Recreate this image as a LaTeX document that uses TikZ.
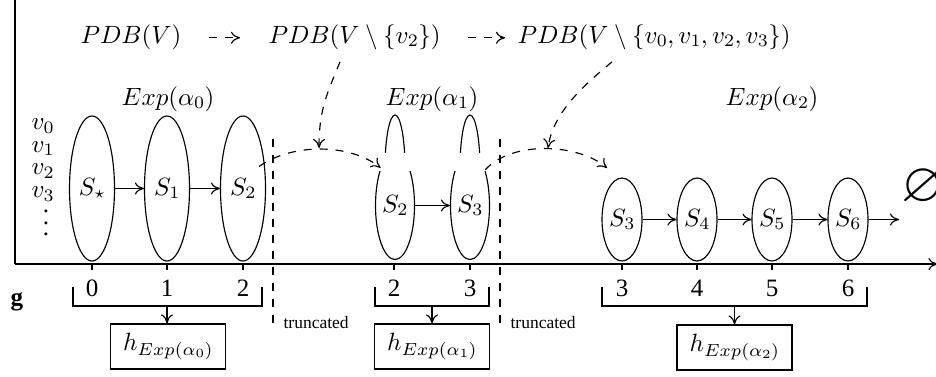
\documentclass[tikz,border=0pt]{standalone}
\usepackage{amssymb}
% Computer Modern math with the 10/7/5 design sizes, scaled to 25/17.5/12.5
\DeclareFontFamily{OML}{cmm}{\skewchar\font=127 }
\DeclareFontShape{OML}{cmm}{m}{it}{<17.5> cmmi7 <12.5> cmmi5 <-> cmmi10}{}
\DeclareFontFamily{OMS}{cmsy}{\skewchar\font=48 }
\DeclareFontShape{OMS}{cmsy}{m}{n}{<17.5> cmsy7 <12.5> cmsy5 <-> cmsy10}{}
\DeclareFontFamily{OMX}{cmex}{}
\DeclareFontShape{OMX}{cmex}{m}{n}{<-> cmex10}{}
\DeclareFontFamily{OT1}{cmr}{\hyphenchar\font=45 }
\DeclareFontShape{OT1}{cmr}{m}{n}{<17.5> cmr7 <12.5> cmr5 <-> cmr10}{}
\DeclareFontFamily{U}{msb}{}
\DeclareFontShape{U}{msb}{m}{n}{<-> msbm10}{}
\DeclareMathSizes{25}{25}{17.5}{12.5}
\usepackage[no-math]{fontspec}
\setmainfont{Liberation Serif}
\usetikzlibrary{arrows.meta,shapes.geometric}

\tikzset{
  mfont/.style={font=\fontsize{25}{30}\selectfont},
  stnode/.style={ellipse, draw, inner sep=0pt, mfont},
  tallst/.style={stnode, minimum width=45pt, minimum height=145pt},
  midst/.style={stnode, minimum width=39pt, minimum height=108pt},
  shortst/.style={stnode, minimum width=40pt, minimum height=83pt},
  mlabel/.style={mfont, inner sep=0pt},
  digit/.style={font=\fontsize{25}{30}\selectfont, inner sep=0pt},
  trunc/.style={font=\fontsize{17.5}{20}\selectfont, inner sep=0pt},
  hbox/.style={draw, mfont, inner sep=0pt, minimum width=115pt, minimum height=45pt},
  dline/.style={dash pattern=on 8pt off 8pt},
}

\begin{document}
\begin{tikzpicture}[x=1pt, y=-1pt, line width=1.15pt, >={To[length=9pt,width=12pt]}]
\useasboundingbox (0,0) rectangle (936,376);

% axes
\coordinate (origin) at (15,264);
\coordinate (xend) at (937.5,264);
\coordinate (ytop) at (15,-3);
\draw (origin) -- (ytop);
\draw[->] (origin) -- (xend);

% ticks and tick labels
\foreach \x/\t in {92/0,167/1,243/2,394/2,470/3,622/3,697/4,772/5,848/6} {
  \draw (\x,264) -- (\x,270);
  \node[digit, anchor=base] (tick\x) at (\x,296) {\t};
}

% variable list
\node[mlabel, anchor=base west] (v0) at (31,129.5) {$v_0$};
\node[mlabel, anchor=base west] (v1) at (31,152.2) {$v_1$};
\node[mlabel, anchor=base west] (v2) at (31,174.9) {$v_2$};
\node[mlabel, anchor=base west] (v3) at (31,197.6) {$v_3$};
\node[mlabel] (vdots) at (46,223) {\vbox{\baselineskip=11.5pt\hbox{.}\hbox{.}\hbox{.}}};

% top row
\node[mlabel, anchor=base west] (pdb0) at (80,43) {$PDB(V)$};
\node[mlabel, anchor=base west] (pdb1) at (268,43) {$PDB(V \setminus \{v_2\})$};
\node[mlabel, anchor=base west] (pdb2) at (517,43) {$PDB(V \setminus \{v_0, v_1, v_2, v_3\})$};
\draw[dline, ->, shorten <=27pt, shorten >=28pt] ([yshift=-1pt]pdb0.east) -- ([yshift=-1pt]pdb1.west);
\draw[dline, ->, shorten <=27pt, shorten >=12pt] ([yshift=-1pt]pdb1.east) -- ([yshift=-1pt]pdb2.west);

% exploration labels
\node[mlabel, anchor=base] (exp0) at (168,105) {$Exp(\alpha_0)$};
\node[mlabel, anchor=base] (exp1) at (432,105) {$Exp(\alpha_1)$};
\node[mlabel, anchor=base] (exp2) at (772,105) {$Exp(\alpha_2)$};

% first exploration
\node[tallst] (sa) at (92,188.5) {$S_\star$};
\node[tallst] (sb) at (167,188.5) {$S_1$};
\node[tallst] (sc) at (243,188.5) {$S_2$};
\draw[->] (sa) -- (sb);
\draw[->] (sb) -- (sc);

% second exploration (cut states)
\node[midst] (sd) at (395,205.5) {$S_2$};
\node[midst] (se) at (470,205.5) {$S_3$};
\fill[white] (370,151) rectangle (420,170.5);
\fill[white] (445,151) rectangle (495,170.5);
\begin{scope}
  \clip (370,100) rectangle (495,152);
  \draw (395,168) ellipse [x radius=10, y radius=53];
  \draw (470,168) ellipse [x radius=10, y radius=53];
\end{scope}
\draw[->] (sd) -- (se);

% third exploration
\node[shortst] (sf) at (622,219.5) {$S_3$};
\node[shortst] (sg) at (697,219.5) {$S_4$};
\node[shortst] (sh) at (772,219.5) {$S_5$};
\node[shortst] (si) at (848,219.5) {$S_6$};
\coordinate (tail) at (899,219.5);
\draw[->] (sf) -- (sg);
\draw[->] (sg) -- (sh);
\draw[->] (sh) -- (si);
\draw[->] (si) -- (tail);
\node[font=\fontsize{56}{60}\selectfont, inner sep=0pt] (empty) at (923,187) {$\varnothing$};

% truncation marks
\draw[dline] (273,139) -- (273,330);
\draw[dline] (500,139) -- (500,330);
\node[trunc, anchor=base west] (tr1) at (283,328) {truncated};
\node[trunc, anchor=base west] (tr2) at (510,328) {truncated};

% restarts
\coordinate (peak1) at (319,148);
\coordinate (peak2) at (548,148);
\coordinate (s3tip) at (607,168);
\draw[dline, ->] ([xshift=-6pt]sc.45) .. controls +(34,-24) and +(-30,-24) .. (sd.111);
\draw[dline, ->] (se.67) .. controls +(28,-30) and +(-28,-24) .. (s3tip);
\draw[dline, ->] ([xshift=72pt,yshift=-12pt]pdb1.south west) .. controls +(-12,30) and +(0,-40) .. (peak1);
\draw[dline, ->] ([xshift=95pt,yshift=-12pt]pdb2.south west) .. controls +(-30,25) and +(5,-35) .. (peak2);

% heuristic grouping
\node[font=\fontsize{25}{30}\selectfont\bfseries, inner sep=0pt, anchor=base west] (g) at (10,305) {g};
\draw (73,287) -- (73,306) -- (262,306) -- (262,287);
\draw (375,287) -- (375,306) -- (489,306) -- (489,287);
\draw (602,287) -- (602,306) -- (867,306) -- (867,287);
\coordinate (br1) at (167,306);
\coordinate (br2) at (432,306);
\coordinate (br3) at (734.5,306);
\node[hbox] (h1) at (168,346.5) {$h_{Exp(\alpha_0)}$};
\node[hbox] (h2) at (432,346.5) {$h_{Exp(\alpha_1)}$};
\node[hbox] (h3) at (734.5,347.5) {$h_{Exp(\alpha_2)}$};
\draw[->] (br1) -- (br1 |- h1.north);
\draw[->] (br2) -- (br2 |- h2.north);
\draw[->] (br3) -- (br3 |- h3.north);
\end{tikzpicture}
\end{document}
